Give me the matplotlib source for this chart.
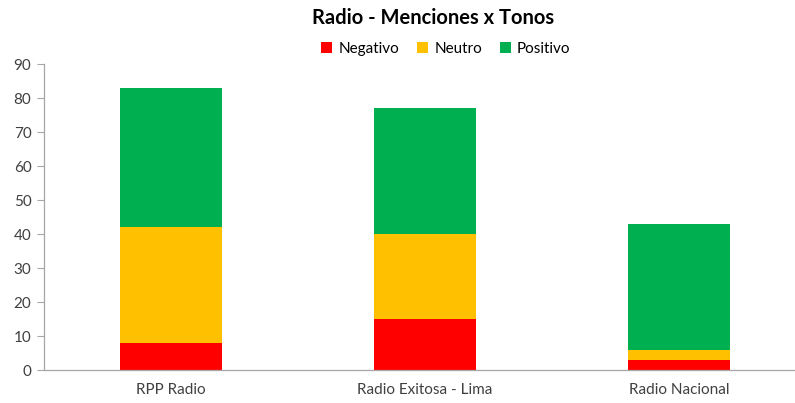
import matplotlib
matplotlib.use("Agg")
import matplotlib.pyplot as plt
from matplotlib.patches import Patch

plt.rcParams['font.family'] = ['Lato', 'DejaVu Sans']

categories = ["RPP Radio", "Radio Exitosa - Lima", "Radio Nacional"]
negativo = [8, 15, 3]
neutro = [34, 25, 3]
positivo = [41, 37, 37]
series_names = ["Negativo", "Neutro", "Positivo"]
colors = ["#FF0000", "#FFC000", "#00B050"]

W, H = 795, 403
fig = plt.figure(figsize=(W / 100, H / 100), dpi=100)
ax = fig.add_axes([44 / W, 1 - 370 / H, 762 / W, 306 / H])

x = list(range(len(categories)))
bottom = [0] * len(categories)
for vals, col in zip([negativo, neutro, positivo], colors):
    ax.bar(x, vals, width=0.4, bottom=bottom, color=col, zorder=2)
    bottom = [b + v for b, v in zip(bottom, vals)]

ax.set_xlim(-0.5, 2.5)
ax.set_ylim(0, 90)
ax.set_yticks(range(0, 91, 10))
ax.set_xticks(x)
ax.set_xticklabels(categories)
for s in ["top", "right"]:
    ax.spines[s].set_visible(False)
for s in ["left", "bottom"]:
    ax.spines[s].set_color("#A6A6A6")
    ax.spines[s].set_linewidth(0.9)
ax.tick_params(axis="y", length=5, color="#A6A6A6", labelsize=11, labelcolor="#404040", pad=4)
ax.tick_params(axis="x", length=0, labelsize=11, labelcolor="#404040", pad=9)

fig.text(433 / W, 1 - 18 / H, "Radio - Menciones x Tonos", ha="center", va="center",
         fontsize=14.5, fontweight="bold", color="#000000")

handles = [Patch(facecolor=c, edgecolor="none") for c in colors]
fig.legend(handles, series_names, loc="center", bbox_to_anchor=(446 / W, 1 - 49 / H),
           ncol=3, frameon=False, fontsize=11, handlelength=0.7, handleheight=0.7,
           handletextpad=0.4, columnspacing=1.2, labelcolor="#000000")

fig.savefig("out.png", dpi=100, facecolor="white")
